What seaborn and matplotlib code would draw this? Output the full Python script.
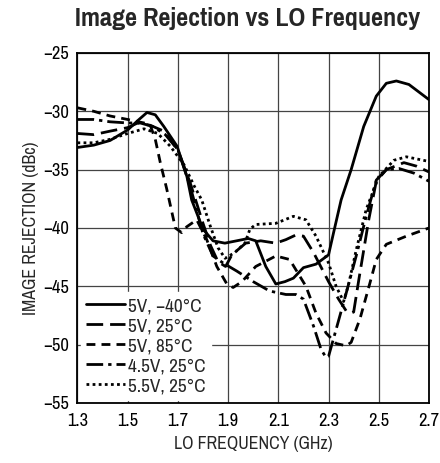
import matplotlib
matplotlib.use('Agg')
import matplotlib.pyplot as plt
from matplotlib import font_manager
import pandas as pd
import seaborn as sns

# Image rejection vs LO frequency, five supply/temperature conditions
series_names = ['5V, \u221240\u00b0C', '5V, 25\u00b0C', '5V, 85\u00b0C',
                '4.5V, 25\u00b0C', '5.5V, 25\u00b0C']

solid_f = [1.30, 1.365, 1.43, 1.50, 1.54, 1.577, 1.61, 1.644, 1.697, 1.736,
           1.755, 1.80, 1.84, 1.887, 1.934, 1.98, 2.01, 2.05, 2.09, 2.126,
           2.16, 2.20, 2.25, 2.30, 2.32, 2.35, 2.39, 2.44, 2.49, 2.53, 2.57,
           2.62, 2.70]
solid_v = [-33.1, -32.9, -32.5, -31.6, -30.8, -30.1, -30.3, -31.3, -33.0, -35.6,
           -37.6, -40.1, -41.1, -41.3, -41.1, -40.9, -41.1, -43.3, -44.8, -44.6,
           -44.3, -43.4, -43.1, -42.3, -40.4, -37.6, -35.0, -31.3, -28.7, -27.6,
           -27.4, -27.7, -29.0]

long_f = [1.30, 1.365, 1.43, 1.50, 1.54, 1.59, 1.644, 1.70, 1.75, 1.80, 1.83,
          1.86, 1.89, 1.915, 1.97, 2.03, 2.09, 2.13, 2.17, 2.20, 2.24, 2.30,
          2.34, 2.37, 2.39, 2.40, 2.42, 2.44, 2.46, 2.49, 2.53, 2.60, 2.65, 2.70]
long_v = [-31.9, -32.0, -31.7, -31.4, -31.0, -31.2, -31.7, -33.3, -36.2, -39.6,
          -41.5, -42.9, -43.3, -42.3, -41.3, -41.1, -41.3, -41.0, -40.6, -40.7,
          -42.1, -44.6, -46.1, -47.1, -47.3, -47.2, -44.5, -41.9, -39.3, -36.0,
          -35.0, -34.4, -34.7, -35.2]

short_f = [1.30, 1.365, 1.43, 1.50, 1.565, 1.59, 1.61, 1.63, 1.655, 1.69, 1.715,
           1.735, 1.775, 1.815, 1.855, 1.895, 1.92, 1.955, 2.01, 2.09, 2.145,
           2.21, 2.25, 2.29, 2.33, 2.37, 2.39, 2.425, 2.465, 2.49, 2.53, 2.61,
           2.70]
short_v = [-29.7, -30.0, -30.4, -30.7, -31.0, -31.2, -32.4, -34.4, -36.6, -40.0,
           -40.4, -39.9, -39.3, -41.0, -43.3, -44.8, -45.1, -44.6, -43.3, -42.4,
           -42.7, -45.0, -47.3, -49.0, -49.9, -50.1, -49.8, -47.8, -44.7, -42.7,
           -41.4, -40.7, -40.0]

dashdot_f = [1.30, 1.365, 1.43, 1.50, 1.55, 1.60, 1.65, 1.70, 1.75, 1.80, 1.84,
             1.88, 1.935, 2.00, 2.065, 2.13, 2.17, 2.20, 2.24, 2.27, 2.29, 2.30,
             2.33, 2.37, 2.41, 2.45, 2.49, 2.53, 2.58, 2.64, 2.70]
dashdot_v = [-30.7, -30.7, -30.9, -31.0, -31.0, -31.3, -32.0, -33.3, -36.5, -40.5,
             -42.4, -43.0, -43.7, -44.6, -45.4, -45.7, -45.7, -46.1, -48.4, -50.4,
             -51.1, -51.0, -48.7, -45.6, -42.4, -39.0, -35.9, -35.0, -34.9, -35.3,
             -36.0]

dotted_f = [1.30, 1.365, 1.43, 1.50, 1.565, 1.62, 1.67, 1.725, 1.765, 1.795,
            1.83, 1.86, 1.888, 1.927, 1.967, 1.987, 2.01, 2.09, 2.16, 2.21, 2.25,
            2.30, 2.33, 2.36, 2.38, 2.41, 2.45, 2.50, 2.56, 2.61, 2.70]
dotted_v = [-32.7, -32.7, -32.4, -31.9, -31.5, -31.9, -33.0, -34.6, -36.4, -37.6,
            -39.9, -41.7, -42.6, -42.1, -41.3, -40.1, -39.7, -39.6, -39.0, -39.3,
            -40.7, -43.0, -45.0, -46.3, -44.8, -41.9, -38.4, -35.6, -34.2, -33.9,
            -34.3]

x_ticks = [1.3, 1.5, 1.7, 1.9, 2.1, 2.3, 2.5, 2.7]
y_ticks = [-55, -50, -45, -40, -35, -30, -25]

# long-form frame for seaborn
frames = []
for name, f, v in zip(series_names,
                      [solid_f, long_f, short_f, dashdot_f, dotted_f],
                      [solid_v, long_v, short_v, dashdot_v, dotted_v]):
    frames.append(pd.DataFrame({'freq': f, 'rej': v, 'series': name}))
df = pd.concat(frames, ignore_index=True)

sns.set_style('white')
# a narrow grotesque is closest to the datasheet font
installed = {f.name for f in font_manager.fontManager.ttflist}
narrow = 'Liberation Sans'
for cand in ['Liberation Sans Narrow', 'Pragati Narrow', 'Archivo Narrow',
             'Roboto Condensed', 'PT Sans Narrow']:
    if cand in installed:
        narrow = cand
        break
plt.rcParams['font.family'] = [narrow, 'DejaVu Sans']

fig = plt.figure(figsize=(4.4, 4.63), dpi=100)
ax = fig.add_axes([0.176, 0.1296, 0.799, 0.756])

dashes = {
    series_names[0]: '',
    series_names[1]: (6, 2.5),
    series_names[2]: (3.2, 2.2),
    series_names[3]: (6, 1.8, 1.2, 1.8),
    series_names[4]: (1, 1.2),
}
sns.lineplot(data=df, x='freq', y='rej', hue='series', style='series',
             palette=['black'] * 5, dashes=dashes, estimator=None, sort=True,
             linewidth=2.0, ax=ax)

ax.set_xlim(1.3, 2.7)
ax.set_ylim(-55, -25)
ax.set_xticks(x_ticks)
ax.set_xticklabels([f'{t:.1f}' for t in x_ticks])
ax.set_yticks(y_ticks)
ax.set_yticklabels([f'\u2212{abs(t)}' for t in y_ticks])
ax.grid(True, color='#444444', linewidth=0.9)
for s in ax.spines.values():
    s.set_color('black')
    s.set_linewidth(1.3)
ax.tick_params(axis='both', labelsize=14.5, direction='in', length=3,
               colors='black')
ax.tick_params(axis='x', pad=7)
ax.tick_params(axis='y', pad=6)

ax.set_xlabel('LO FREQUENCY (GHz)', fontsize=14, labelpad=5)
ax.set_ylabel('IMAGE REJECTION (dBc)', fontsize=14, labelpad=3)
fig.suptitle('Image Rejection vs LO Frequency', x=0.563, y=0.985,
             fontsize=20.5, fontweight='bold')

handles, labels = ax.get_legend_handles_labels()
leg = ax.legend(handles, labels, loc='lower left', frameon=True,
                fontsize=15, handlelength=1.9, handletextpad=0.15,
                labelspacing=0.12, borderpad=0.25, borderaxespad=0.15,
                fancybox=False)
leg.get_frame().set_facecolor('white')
leg.get_frame().set_edgecolor('white')
leg.get_frame().set_alpha(1.0)

fig.savefig('out.png', dpi=100)
